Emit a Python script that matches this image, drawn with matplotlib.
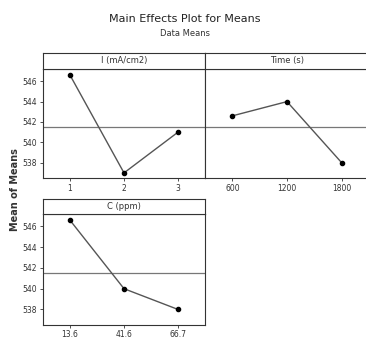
import matplotlib.pyplot as plt

plt.rcParams['font.family'] = ['Liberation Sans Narrow', 'DejaVu Sans']

# datos
i_labels = ['1', '2', '3']
i_means = [546.6, 537.0, 541.0]
t_labels = ['600', '1200', '1800']
t_means = [542.6, 544.0, 538.0]
c_labels = ['13.6', '41.6', '66.7']
c_means = [546.6, 540.0, 538.0]
gran_media = 541.5
y_ticks = [538, 540, 542, 544, 546]

W, H = 366, 338
fig = plt.figure(figsize=(W / 100, H / 100), dpi=100)


def px_axes(x0, y0, x1, y1):
    # coordenadas en pixeles (origen arriba a la izquierda)
    return fig.add_axes([x0 / W, 1 - y1 / H, (x1 - x0) / W, (y1 - y0) / H])


def panel(x0, x1, top, strip, bottom, labels, means, title, show_y, pad=2):
    ax = px_axes(x0, strip, x1, bottom)
    xs = range(1, len(labels) + 1)
    ax.plot(xs, means, color='#555555', lw=1.0, marker='o', ms=3,
            mfc='black', mec='black', zorder=3)
    ax.axhline(gran_media, color='#777777', lw=0.9, zorder=1)
    ax.set_xlim(0.5, 3.5)
    ax.set_ylim(536.5, 547.2)
    ax.set_xticks(list(xs))
    ax.set_xticklabels(labels, fontsize=5.5, color='#333333')
    if show_y:
        ax.set_yticks(y_ticks)
        ax.set_yticklabels([str(v) for v in y_ticks], fontsize=5.5, color='#333333')
    else:
        ax.set_yticks([])
    ax.tick_params(length=2.5, width=0.6, pad=2, color='#333333')
    ax.tick_params(axis='x', pad=pad)
    for s in ax.spines.values():
        s.set_color('#333333')
        s.set_linewidth(0.8)
    hd = px_axes(x0, top, x1, strip)
    hd.set_xticks([])
    hd.set_yticks([])
    for s in hd.spines.values():
        s.set_color('#333333')
        s.set_linewidth(0.8)
    hd.text(0.5, 0.5, title, ha='center', va='center', fontsize=6, color='#333333',
            transform=hd.transAxes)
    return ax


panel(43, 205, 53, 69, 178, i_labels, i_means, 'I (mA/cm2)', True)
panel(205, 369, 53, 69, 178, t_labels, t_means, 'Time (s)', False)
panel(43, 205, 199, 214, 325, c_labels, c_means, 'C (ppm)', True, pad=0.8)

fig.text(185 / W, 1 - 19 / H, 'Main Effects Plot for Means', ha='center', va='center',
         fontsize=8, color='#222222')
fig.text(185 / W, 1 - 34 / H, 'Data Means', ha='center', va='center',
         fontsize=6, color='#333333')
fig.text(15 / W, 1 - 190 / H, 'Mean of Means', ha='center', va='center',
         rotation=90, fontsize=7, fontweight='bold', color='#333333')

fig.savefig('out.png', dpi=100)
